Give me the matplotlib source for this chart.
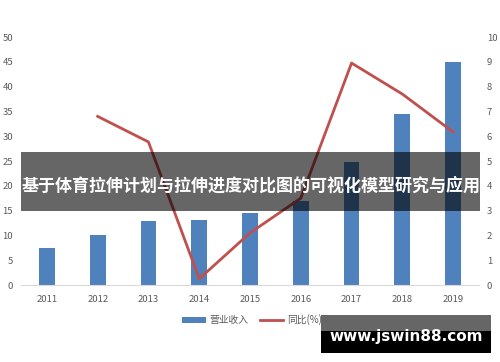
import numpy as np
import matplotlib.pyplot as plt
from matplotlib.patches import Rectangle

plt.rcParams['font.family'] = ['Noto Sans CJK SC', 'DejaVu Sans']

# data
years = ['2011', '2012', '2013', '2014', '2015', '2016', '2017', '2018', '2019']
revenue = [7.5, 10.0, 12.9, 13.1, 14.5, 17.0, 24.8, 34.5, 45.0]
yoy_years = ['2012', '2013', '2014', '2015', '2016', '2017', '2018', '2019']
yoy = [6.8, 5.77, 0.25, 2.1, 3.5, 8.95, 7.7, 6.17]

title = '基于体育拉伸计划与拉伸进度对比图的可视化模型研究与应用'
watermark = 'www.jswin88.com'

bar_color = '#4f81bd'
line_color = '#c0504d'
tick_color = '#595959'


def main():
    fig = plt.figure(figsize=(5, 3.62), dpi=100)
    ax = fig.add_axes([0.043, 0.2127, 0.914, 0.685])
    ax2 = ax.twinx()

    x = np.arange(len(years))
    ax.bar(x, revenue, width=0.31, color=bar_color, label='营业收入', zorder=2)
    x_line = [years.index(y) for y in yoy_years]
    ax2.plot(x_line, yoy, color=line_color, lw=2, label='同比(%)')

    ax.set_xlim(-0.5, len(years) - 0.5)
    ax.set_ylim(0, 50)
    ax2.set_ylim(0, 10)
    ax.set_yticks(np.arange(0, 51, 5))
    ax2.set_yticks(np.arange(0, 11, 1))
    ax.set_xticks(x)
    ax.set_xticklabels(years)

    for a in (ax, ax2):
        for s in a.spines.values():
            s.set_visible(False)
        a.tick_params(length=0, labelsize=6.8, colors=tick_color)
    ax.spines['bottom'].set_visible(True)
    ax.spines['bottom'].set_color('#d9d9d9')
    ax.tick_params(axis='y', pad=6)
    ax2.tick_params(axis='y', pad=6)
    ax.tick_params(axis='x', pad=7)

    h1, l1 = ax.get_legend_handles_labels()
    h2, l2 = ax2.get_legend_handles_labels()
    fig.legend(h1 + h2, l1 + l2, loc='center', bbox_to_anchor=(0.504, 0.116),
               ncol=2, frameon=False, fontsize=7, labelcolor=tick_color,
               handlelength=2.4, handleheight=0.5, columnspacing=1.2, handletextpad=0.35)

    # dark translucent banner with the title
    fig.patches.append(Rectangle((21 / 500, 1 - 211 / 362), 459 / 500, 59 / 362,
                                 transform=fig.transFigure, facecolor='black',
                                 alpha=0.6, zorder=5))
    fig.text(22 / 500, 1 - 186 / 362, title, color='white', fontsize=12.25,
             fontweight='bold', va='center', ha='left', zorder=6)

    # watermark box
    fig.patches.append(Rectangle((321 / 500, 1 - 353 / 362), 170 / 500, 22 / 362,
                                 transform=fig.transFigure, facecolor='black', zorder=5))
    fig.patches.append(Rectangle((321 / 500, 1 - 331 / 362), 170 / 500, 16 / 362,
                                 transform=fig.transFigure, facecolor='#666666', zorder=5))
    fig.text(406 / 500, 1 - 337 / 362, watermark, color='white', fontsize=11,
             fontweight='bold', va='center', ha='center', family='DejaVu Sans', zorder=6)

    fig.savefig('out.png', dpi=100)


if __name__ == "__main__":
    main()
